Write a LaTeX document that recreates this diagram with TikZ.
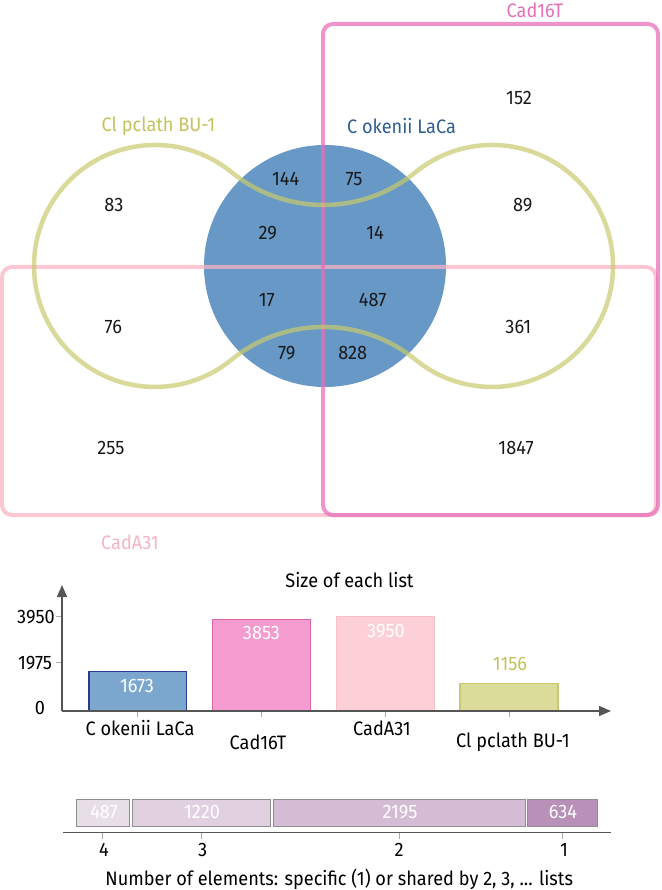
\documentclass[tikz,border=0pt]{standalone}
\usepackage{fontspec}
\setmainfont{Fira Sans}[FakeStretch=0.93]
\usetikzlibrary{arrows.meta}
\definecolor{venblue}{HTML}{6798C6}
\definecolor{yelline}{HTML}{C9CA6E}
\definecolor{pinkA}{HTML}{E870B8}
\definecolor{pinkB}{HTML}{F8B4C4}
\definecolor{lblyel}{HTML}{C2C35A}
\definecolor{lblblue}{HTML}{2E5E8E}
\definecolor{lblpinkA}{HTML}{E46FB5}
\definecolor{lblpinkB}{HTML}{F6B3C3}
\definecolor{axisgray}{HTML}{555555}
\definecolor{tickgray}{HTML}{AAAAAA}
\definecolor{barA}{HTML}{7BA7CF}
\definecolor{barAline}{HTML}{2B3A8F}
\definecolor{barB}{HTML}{F49BCF}
\definecolor{barBline}{HTML}{D964A8}
\definecolor{barC}{HTML}{FDD0D8}
\definecolor{barCline}{HTML}{F8BFCB}
\definecolor{barD}{HTML}{DCDC9A}
\definecolor{barDline}{HTML}{C8C870}
\definecolor{segA}{HTML}{E8DEE8}
\definecolor{segB}{HTML}{E0D0E0}
\definecolor{segC}{HTML}{D4BCD4}
\definecolor{segD}{HTML}{B890B8}
\definecolor{segline}{HTML}{8E8E8E}
\begin{document}
\begin{tikzpicture}[x=1pt,y=-1pt,
  every node/.style={font=\fontsize{19.5}{22}\selectfont, inner sep=0pt},
  num/.style={text=black!90},
  setline/.style={line width=4pt, opacity=0.75},
  axisline/.style={draw=axisgray, line width=1.5pt, -{Triangle[length=12pt,width=10pt]}},
  tickmark/.style={draw=tickgray, line width=1pt},
  bar/.style={line width=1.5pt},
  seg/.style={draw=segline, line width=1pt},
  segtext/.style={text=white}]
\useasboundingbox (0,0) rectangle (661,890);
% ---------- Venn ----------
\fill[venblue] (325,266) circle (121);
\draw[setline, draw=pinkB, rounded corners=10pt] (2,267) rectangle (656,515);
\draw[setline, draw=pinkA, rounded corners=10pt] (323,24) rectangle (658,515);
\draw[setline, draw=yelline, line width=4.5pt, opacity=0.7]
  (231.5,172.2) arc[start angle=-50.8, end angle=-309.2, radius=121]
  arc[start angle=-129.2, end angle=-50.8, radius=145.6]
  arc[start angle=129.2, end angle=-129.2, radius=121]
  arc[start angle=50.8, end angle=129.2, radius=145.6] -- cycle;
\node[text=lblpinkA] (lCad16T) at (535,10) {Cad16T};
\node[text=lblyel] (lClp) at (158.5,126) {Cl pclath BU-1};
\node[text=lblblue] (lCok) at (401.5,126) {C okenii LaCa};
\node[text=lblpinkB] (lCadA) at (130,542) {CadA31};
\node[num] (n152) at (519,98) {152};
\node[num] (n83) at (114,205) {83};
\node[num] (n144) at (285.7,179) {144};
\node[num] (n75) at (354,179) {75};
\node[num] (n89) at (522.7,205) {89};
\node[num] (n29) at (267.7,233) {29};
\node[num] (n14) at (375,233) {14};
\node[num] (n17) at (266.7,300) {17};
\node[num] (n487) at (372.7,300) {487};
\node[num] (n76) at (113.3,327) {76};
\node[num] (n361) at (518.3,327) {361};
\node[num] (n79) at (286.7,353.3) {79};
\node[num] (n828) at (352.7,353.3) {828};
\node[num] (n255) at (111,448) {255};
\node[num] (n1847) at (516,448) {1847};
% ---------- Bar chart ----------
\node (title) at (349.5,580) {Size of each list};
\coordinate (orig) at (62,711);
\coordinate (ytop) at (62,585);
\coordinate (xend) at (611,711);
\draw[tickmark] (56,616.7) -- (62,616.7);
\draw[tickmark] (56,662.7) -- (62,662.7);
\foreach \xc in {137.8,261.5,385.5,509} \draw[tickmark] (\xc,711) -- (\xc,717);
\draw[bar, fill=barA, draw=barAline] (89,711) rectangle (186.7,671.7);
\draw[bar, fill=barB, draw=barBline] (212.7,711) rectangle (310.3,619.3);
\draw[bar, fill=barC, draw=barCline] (336.7,711) rectangle (434.3,616.7);
\draw[bar, fill=barD, draw=barDline] (460,711) rectangle (558,683.3);
\draw[axisline] (orig) -- (ytop);
\draw[axisline] (orig) -- (xend);
\node (y3950) at (36,617) {3950};
\node (y1975) at (35,662.7) {1975};
\node (y0) at (40,708) {0};
\node[text=white] (v1673) at (137,686) {1673};
\node[text=white] (v3853) at (261.5,633) {3853};
\node[text=white] (v3950) at (386,631) {3950};
\node[text=lblyel] (v1156) at (510,664) {1156};
\node (xCok) at (140,728) {C okenii LaCa};
\node (xCad16T) at (258,742) {Cad16T};
\node (xCadA) at (382,728) {CadA31};
\node (xClp) at (513,742) {Cl pclath BU-1};
% ---------- Bottom bar ----------
\draw[seg, fill=segA] (76,799) rectangle (129.4,826);
\draw[seg, fill=segB] (132,799) rectangle (270.7,826);
\draw[seg, fill=segC] (273,799) rectangle (525,826);
\draw[seg, fill=segD] (527,799) rectangle (597.8,826);
\node[segtext] (s487) at (104,812) {487};
\node[segtext] (s1220) at (202,812) {1220};
\node[segtext] (s2195) at (400,812) {2195};
\node[segtext] (s634) at (563,812) {634};
\coordinate (bl) at (63,832.7);
\coordinate (br) at (611,832.7);
\draw[draw=axisgray, line width=1.5pt] (bl) -- (br);
\foreach \xc in {102.6,201.3,399,562.4} \draw[tickmark] (\xc,833) -- (\xc,838.5);
\node (t4) at (104,850) {4};
\node (t3) at (202.7,850) {3};
\node (t2) at (399,850) {2};
\node (t1) at (564,850) {1};
\node (caption) at (339.2,879) {Number of elements: specific (1) or shared by 2, 3, ... lists};
\end{tikzpicture}
\end{document}
